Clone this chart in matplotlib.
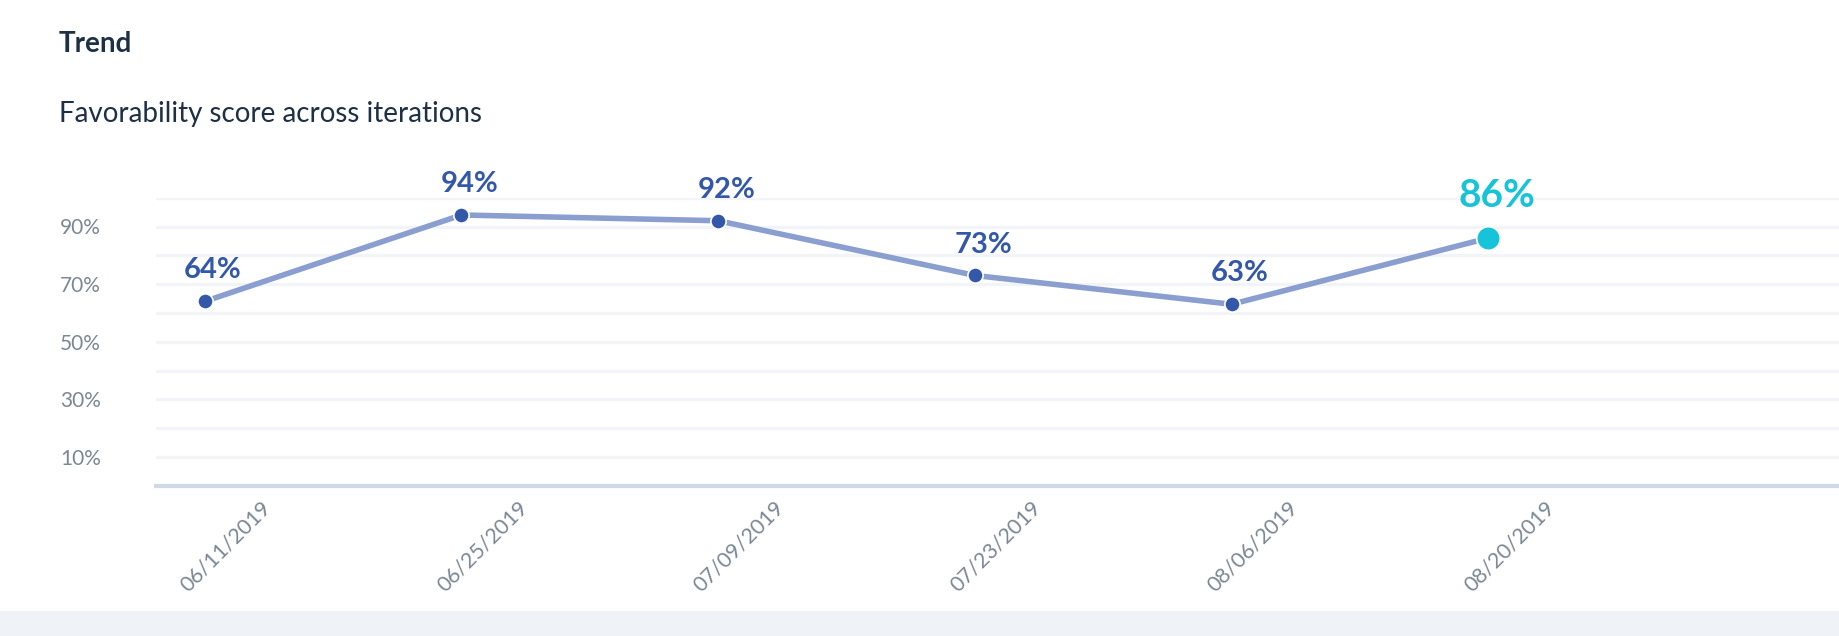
import matplotlib.pyplot as plt
import matplotlib.transforms as mtransforms
from matplotlib.patches import Rectangle

plt.rcParams['font.family'] = ['Lato', 'DejaVu Sans']

# Data
dates = ["06/11/2019", "06/25/2019", "07/09/2019", "07/23/2019", "08/06/2019", "08/20/2019"]
scores = [64, 94, 92, 73, 63, 86]
y_ticks = [10, 30, 50, 70, 90]
grid_levels = [10, 20, 30, 40, 50, 60, 70, 80, 90, 100]

line_color = '#8a9fd0'
point_color = '#3358a9'
last_color = '#17c3d8'
tick_color = '#7b8894'
title_color = '#1d3044'

fig = plt.figure(figsize=(18.4, 6.36), dpi=100)
fig.patch.set_facecolor('white')

# grey strip at the bottom of the card
fig.patches.append(Rectangle((0, 0), 1, 0.04, transform=fig.transFigure,
                             facecolor='#eff2f6', edgecolor='none', zorder=0))

fig.text(59 / 1840, 1 - 52 / 636, "Trend", fontsize=20, fontweight='bold',
         color=title_color, va='baseline', ha='left')
fig.text(59 / 1840, 1 - 122 / 636, "Favorability score across iterations", fontsize=20,
         color=title_color, va='baseline', ha='left')

ax = fig.add_axes([156 / 1840, 1 - 485.7 / 636, 1 - 156 / 1840, (485.7 - 197.7) / 636])
x = list(range(len(dates)))

for g in grid_levels:
    ax.axhline(g, color='#f3f4f8', lw=2.4, zorder=0)
ax.axhline(0, color='#d0d9e6', lw=3, zorder=1, clip_on=False)

ax.plot(x, scores, color=line_color, lw=4, zorder=2, solid_capstyle='round')
ax.plot(x[:-1], scores[:-1], 'o', color=point_color, ms=11, mec='white', mew=1.2, zorder=3)
ax.plot(x[-1:], scores[-1:], 'o', color=last_color, ms=17, mec='white', mew=1.2, zorder=3)

for i, v in enumerate(scores):
    last = i == len(scores) - 1
    ax.annotate(f"{v}%", (x[i], v), xytext=(6, 22 if last else 16.5),
                textcoords='offset points', ha='center', va='baseline',
                fontsize=28 if last else 21, fontweight='bold',
                color=last_color if last else point_color)

ax.set_xlim(-0.19, 6.37)
ax.set_ylim(0, 100)
ax.set_yticks(y_ticks)
ax.set_yticklabels([f"{t}%" for t in y_ticks])
ax.set_xticks(x)
ax.set_xticklabels(dates)
ax.tick_params(axis='x', length=0, colors=tick_color, labelsize=15.5, pad=0)
ax.tick_params(axis='y', length=0, colors=tick_color, labelsize=15, pad=0)
for s in ax.spines.values():
    s.set_visible(False)

# rotated date labels sit to the right of their tick
x_shift = mtransforms.ScaledTranslation(70 / 100, -12 / 100, fig.dpi_scale_trans)
for lbl in ax.get_xticklabels():
    lbl.set_rotation(45)
    lbl.set_ha('right')
    lbl.set_va('top')
    lbl.set_transform(lbl.get_transform() + x_shift)

# y labels left aligned at 60px from the figure edge
y_shift = mtransforms.ScaledTranslation(-(156 - 60) / 100, 0, fig.dpi_scale_trans)
for lbl in ax.get_yticklabels():
    lbl.set_ha('left')
    lbl.set_transform(lbl.get_transform() + y_shift)

fig.savefig('out.png', dpi=100, facecolor='white')
